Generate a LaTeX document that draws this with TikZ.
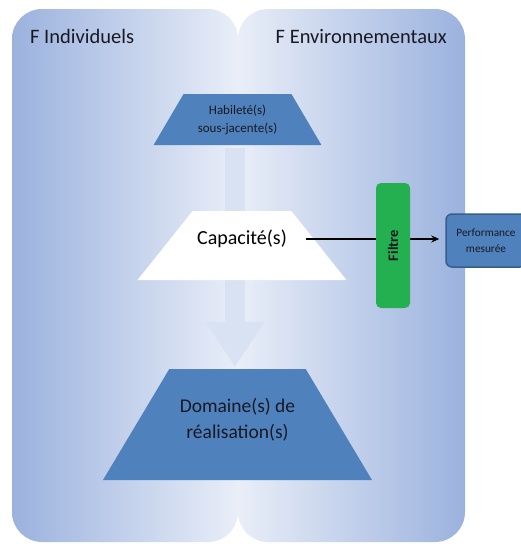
\documentclass[tikz,border=0pt]{standalone}
\usepackage{fontspec}
\setmainfont{Carlito}
\usetikzlibrary{shapes.geometric,arrows.meta,positioning,backgrounds}
\definecolor{PanelDark}{RGB}{155,178,222}
\definecolor{PanelLight}{RGB}{233,238,248}
\definecolor{ShapeBlue}{RGB}{79,129,189}
\definecolor{ShapeBorder}{RGB}{56,93,138}
\definecolor{FiltreGreen}{RGB}{36,176,80}
\definecolor{FlowBlue}{RGB}{216,226,242}
\definecolor{TextDark}{RGB}{25,25,35}
\begin{document}
\begin{tikzpicture}[
    x=1pt, y=-1pt,
    panel/.style={rounded corners=30pt},
    header/.style={text=TextDark, inner sep=0pt, font=\fontsize{20.5}{24}\selectfont},
    trap/.style={trapezium, trapezium stretches=true, fill=ShapeBlue,
                 text=TextDark, align=center, inner sep=2pt},
    flow/.style={line width=20pt, FlowBlue, -{Triangle[width=56pt,length=45pt]}},
    arrow/.style={-{Stealth[length=8pt,width=7pt]}, line width=1.3pt, black},
    filtrebox/.style={rectangle, rounded corners=5pt, fill=FiltreGreen,
                      minimum width=34pt, minimum height=125pt},
    perfbox/.style={rectangle, rounded corners=6pt, draw=ShapeBorder, line width=1.5pt,
                    fill=ShapeBlue, text=TextDark, align=center,
                    minimum width=80pt, minimum height=53pt,
                    font=\fontsize{11.3}{16}\selectfont}
]
\useasboundingbox (0,0) rectangle (520,544);

% facteurs
\node[header, anchor=base west] (indiv) at (30,43) {F Individuels};
\node[header, anchor=base east] (envir) at (447,43) {F Environnementaux};

% niveaux
\node[trap, minimum width=168pt, minimum height=51pt, trapezium angle=55.5,
      font=\fontsize{13}{18}\selectfont] (habil) at (237.5,119.5)
      {Habileté(s)\\sous-jacente(s)};
\node[trap, minimum width=269pt, minimum height=111pt, trapezium angle=64.1] (domaine) at (237.5,424.5) {};
\node[text=TextDark, align=center, font=\fontsize{19.5}{26}\selectfont] (domtext) at (237.5,420)
      {Domaine(s) de\\réalisation(s)};
\node[trap, fill=white, minimum width=209pt, minimum height=69pt,
      trapezium angle=60.8] (capa) at (242,245.5) {};
\node[text=black, font=\fontsize{20}{24}\selectfont] (capatext) at (242,239) {Capacité(s)};

\begin{scope}[on background layer]
  \shade[panel, left color=PanelDark, right color=PanelLight] (12,9) rectangle (238,542);
  \shade[panel, left color=PanelLight, right color=PanelDark] (238,9) rectangle (465,542);
  \draw[flow, shorten <=3pt, shorten >=2pt] ([xshift=-2.5pt]habil.south) -- ([xshift=-2.5pt]habil.south |- domaine.north);
\end{scope}

% mesure
\node[perfbox] (perf) at (486,240.5) {Performance\\mesurée};
\draw[arrow, shorten <=16pt, shorten >=6pt] (capatext.east) -- (capatext.east -| perf.west);
\node[filtrebox] (filtre) at (393,245.5) {};
\node[rotate=90, text=TextDark, font=\bfseries\fontsize{14.5}{17}\selectfont] at (filtre.center) {Filtre};

\end{tikzpicture}
\end{document}
